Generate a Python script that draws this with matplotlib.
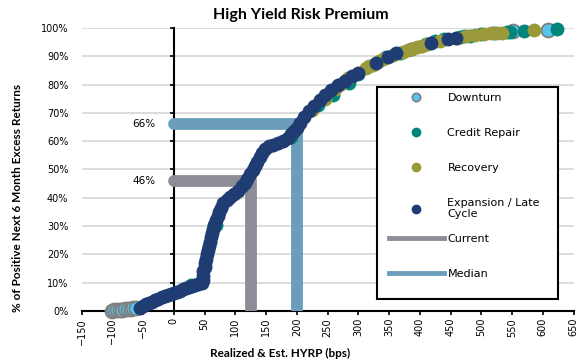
import matplotlib.pyplot as plt
from matplotlib.patches import Rectangle
from matplotlib.lines import Line2D
from matplotlib.ticker import FuncFormatter

# realized / estimated HY risk premium (bps) vs cumulative % of positive 6m excess returns
downturn_bps = [-100, -97, -92, -88, -84, -79, -75, -70, -66, -62, 552, 609]
downturn_pct = [0.1, 0.2, 0.3, 0.4, 0.5, 0.6, 0.7, 0.8, 0.9, 1.0, 98.8, 99.4]

credit_bps = [28, 68, 190, 235, 258, 285, 300, 345, 368, 385, 410, 425, 440,
              465, 472, 482, 500, 520, 541, 547, 570, 623]
credit_pct = [9.3, 30.5, 61.5, 72.8, 76.4, 80.5, 83.6, 89.8, 91.3, 92.5, 94.2,
              95.3, 96.0, 96.8, 97.0, 97.3, 97.8, 98.2, 98.5, 98.7, 98.9, 99.6]

recovery_bps = [225, 245, 262, 272, 283, 312, 318, 324, 334, 340, 357, 372,
                380, 388, 396, 404, 412, 433, 460, 475, 490, 505, 515, 525,
                533, 585]
recovery_pct = [71.0, 75.0, 78.5, 80.3, 82.2, 85.8, 86.4, 87.0, 88.2, 88.9,
                90.6, 91.6, 92.2, 92.7, 93.2, 93.7, 94.2, 95.4, 96.6, 97.1,
                97.6, 98.0, 98.2, 98.3, 98.4, 99.2]

expansion_bps = [-55, -50, -45, -40, -35, -30, -25, -20, -15, -10, -5, 0, 5, 10,
                 15, 20, 25, 30, 35, 40, 45, 47, 47, 48, 50, 51, 52, 54, 55, 57,
                 58, 60, 62, 64, 66, 68, 71, 73, 76, 80, 86, 92, 98, 104, 110,
                 115, 119, 124, 128, 132, 136, 140, 144, 149, 155, 162, 170, 178,
                 185, 191, 196, 200, 205, 212, 220, 228, 237, 246, 256, 267, 278,
                 290, 300, 328, 348, 362, 418, 445, 458]
expansion_pct = [1.2, 1.8, 2.3, 2.8, 3.3, 3.8, 4.3, 4.8, 5.2, 5.6, 6.0, 6.4, 6.8,
                 7.2, 7.6, 8.0, 8.5, 8.9, 9.2, 9.4, 9.8, 11.0, 12.5, 14.0, 15.5,
                 17.0, 18.5, 20.0, 21.5, 23.0, 24.5, 26.0, 27.5, 29.0, 30.5, 32.0,
                 33.5, 35.0, 36.5, 38.0, 39.2, 40.2, 41.3, 42.5, 44.0, 45.3, 46.8,
                 48.3, 49.8, 51.3, 52.8, 54.3, 55.8, 57.2, 58.2, 58.8, 59.3, 60.0,
                 61.0, 62.5, 63.5, 64.5, 66.5, 68.5, 70.5, 72.5, 74.5, 76.3, 78.0,
                 79.7, 81.3, 83.0, 84.2, 87.5, 89.8, 91.0, 94.8, 96.1, 96.6]

current_bps, current_pct = 125, 46
median_bps, median_pct = 200, 66

x_ticks = list(range(-150, 651, 50))
y_ticks = list(range(0, 101, 10))

C_DOWN = "#56C4F1"
C_CREDIT = "#00857A"
C_RECOV = "#9A9A3A"
C_EXP = "#1F3C73"
C_CURRENT = "#8D8D97"
C_MEDIAN = "#6A9EBB"

TICK_FONT = ["DejaVu Sans"]
BOLD_FONT = ["Lato", "DejaVu Sans"]

fig = plt.figure(figsize=(5.82, 3.62), dpi=100)
ax = fig.add_axes([0.1402, 0.1409, 0.8454, 0.7818])

ax.set_xlim(-150, 650)
ax.set_ylim(0, 100)
ax.set_xticks(x_ticks)
ax.set_yticks(y_ticks)
ax.yaxis.set_major_formatter(FuncFormatter(lambda v, _: f"{v:.0f}%"))
ax.grid(axis="y", color="#D9D9D9", linewidth=1.3, zorder=0)
ax.set_axisbelow(True)

for side in ("top", "right"):
    ax.spines[side].set_visible(False)
ax.spines["left"].set_position(("data", 0))
for side in ("left", "bottom"):
    ax.spines[side].set_linewidth(1.5)
    ax.spines[side].set_color("black")

ax.tick_params(axis="x", direction="out", length=3, width=1.2, pad=2,
               labelsize=7, labelrotation=90)
ax.tick_params(axis="y", direction="out", length=3, width=1.2, pad=73,
               labelsize=7)
for lbl in ax.get_xticklabels() + ax.get_yticklabels():
    lbl.set_family(TICK_FONT)

# current and median reference lines
ax.plot([0, current_bps, current_bps], [current_pct, current_pct, 0],
        color=C_CURRENT, lw=8.5, solid_capstyle="round",
        solid_joinstyle="round", zorder=3)
ax.plot([0, median_bps, median_bps], [median_pct, median_pct, 0],
        color=C_MEDIAN, lw=8.5, solid_capstyle="round",
        solid_joinstyle="round", zorder=3)
for val in (median_pct, current_pct):
    ax.annotate(f"{val}%", xy=(0, val), xytext=(-13.5, 0),
                textcoords="offset points", ha="right", va="center",
                fontsize=7.5, family=TICK_FONT)

ms = 100
ax.scatter(downturn_bps, downturn_pct, s=ms, color=C_DOWN, edgecolor="#7F7F7F",
           linewidth=1.3, zorder=4, clip_on=False)
ax.scatter(credit_bps, credit_pct, s=ms, color=C_CREDIT, linewidth=0,
           zorder=4, clip_on=False)
ax.scatter(recovery_bps, recovery_pct, s=ms, color=C_RECOV, linewidth=0,
           zorder=4, clip_on=False)
ax.scatter(expansion_bps, expansion_pct, s=ms, color=C_EXP, linewidth=0,
           zorder=4, clip_on=False)

# legend: framed box holding two frameless legends
box = Rectangle((0.600, 0.042), 0.369, 0.749, transform=ax.transAxes,
                facecolor="white", edgecolor="black", linewidth=1.5, zorder=5)
ax.add_patch(box)

mk = dict(linestyle="none", marker="o", markersize=6)
series_handles = [
    Line2D([], [], markerfacecolor=C_DOWN, markeredgecolor="#7F7F7F",
           markeredgewidth=1.2, **mk),
    Line2D([], [], color=C_CREDIT, **mk),
    Line2D([], [], color=C_RECOV, **mk),
    Line2D([], [], color=C_EXP, **mk),
]
series_labels = ["Downturn", "Credit Repair", "Recovery", "Expansion / Late\nCycle"]
line_handles = [Line2D([], [], color=C_CURRENT, lw=3.5),
                Line2D([], [], color=C_MEDIAN, lw=3.5)]
line_labels = ["Current", "Median"]

leg_kw = dict(frameon=False, prop={"family": TICK_FONT, "size": 8},
              handlelength=4.9, handletextpad=0.35, borderpad=0,
              borderaxespad=0, labelspacing=2.25, loc="upper left")
leg1 = ax.legend(series_handles, series_labels,
                 bbox_to_anchor=(0.625, 0.771), **leg_kw)
leg1.set_zorder(6)
ax.add_artist(leg1)
leg2 = ax.legend(line_handles, line_labels,
                 bbox_to_anchor=(0.625, 0.271), **leg_kw)
leg2.set_zorder(6)

ax.set_xlabel("Realized & Est. HYRP (bps)", fontsize=8.5, fontweight="bold",
              family=BOLD_FONT)
ax.xaxis.set_label_coords(0.404, -0.13)
ax.set_ylabel("% of Positive Next 6 Month Excess Returns", fontsize=8.5,
              fontweight="bold", family=BOLD_FONT)
ax.yaxis.set_label_coords(-0.12, 0.40)

fig.text(0.517, 1 - 15 / 362, "High Yield Risk Premium", ha="center",
         va="center", fontsize=11.5, fontweight="bold", family=BOLD_FONT)

fig.savefig("out.png", dpi=100)
